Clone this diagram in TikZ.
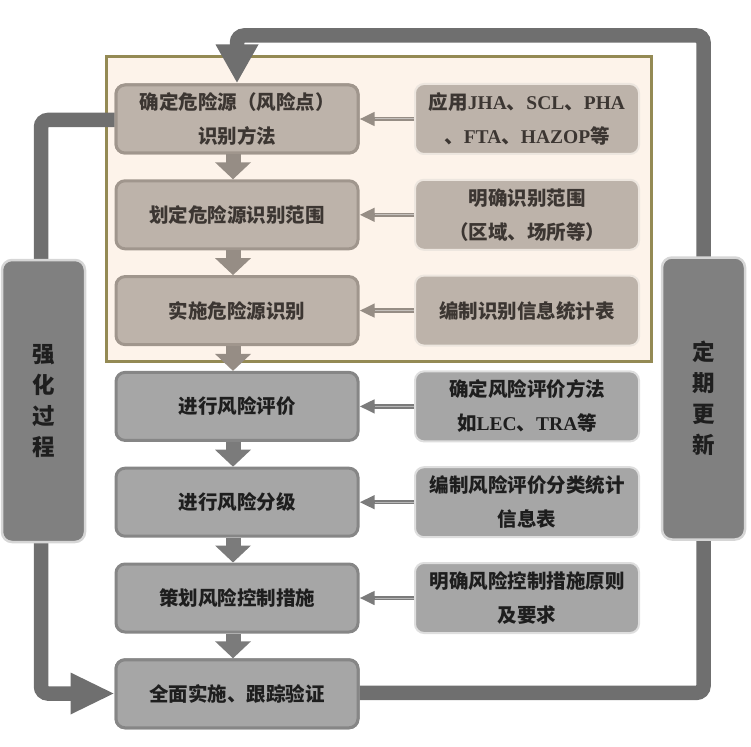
\documentclass[tikz,border=0pt]{standalone}
\usepackage{fontspec}
\usetikzlibrary{arrows.meta}
\newfontfamily\cjk{Noto Sans CJK SC}
\newfontfamily\lat{Liberation Serif}
\definecolor{framefill}{HTML}{FDF3EA}
\definecolor{framedraw}{HTML}{948A54}
\definecolor{tanfill}{HTML}{BDB3AA}
\definecolor{tandraw}{HTML}{A0968D}
\definecolor{tanlight}{HTML}{EDE6DF}
\definecolor{greyfill}{HTML}{A6A6A6}
\definecolor{greydraw}{HTML}{868686}
\definecolor{greylight}{HTML}{DEDEDE}
\definecolor{sidefill}{HTML}{808080}
\definecolor{sidedraw}{HTML}{D6D6D6}
\definecolor{loopcol}{HTML}{6F6F6F}
\definecolor{tanarrow}{HTML}{968D85}
\definecolor{greyarrow}{HTML}{7B7B7B}
\definecolor{tantext}{HTML}{3C3632}
\definecolor{greytext}{HTML}{1E1E1E}
\begin{document}
\begin{tikzpicture}[x=1pt,y=-1pt,
  txt/.style={font=\cjk\bfseries\fontsize{19.5}{34}\selectfont, align=center},
  basebox/.style={txt, rounded corners=9pt, line width=3pt, inner sep=0pt},
  lefttan/.style={basebox, fill=tanfill, draw=tandraw, text=tantext, minimum width=242pt, minimum height=68pt},
  righttan/.style={basebox, fill=tanfill, draw=tanlight, line width=2pt, text=tantext, minimum width=224pt, minimum height=70pt},
  leftgrey/.style={basebox, fill=greyfill, draw=greydraw, text=greytext, minimum width=242pt, minimum height=68pt},
  rightgrey/.style={basebox, fill=greyfill, draw=greylight, line width=2pt, text=greytext, minimum width=224pt, minimum height=70pt},
  sidebox/.style={rounded corners=10pt, line width=2.5pt, fill=sidefill, draw=sidedraw, text=greytext,
     minimum width=83pt, minimum height=282pt, inner sep=0pt,
     font=\cjk\bfseries\fontsize{22.5}{31}\selectfont, align=center},
  loopline/.style={draw=loopcol, line width=14.5pt, rounded corners=7pt},
  downtan/.style={draw=tanarrow, line width=15pt, -{Triangle[width=35pt,length=17pt]}},
  downgrey/.style={draw=greyarrow, line width=15pt, -{Triangle[width=35pt,length=17pt]}},
  smalltan/.style={draw=tanarrow, line width=4.5pt, -{Triangle[width=13pt,length=15pt]}},
  smallgrey/.style={draw=greyarrow, line width=4.5pt, -{Triangle[width=13pt,length=15pt]}},
  smallcore/.style={draw=white, opacity=0.45, line width=1pt, shorten >=15pt}
]
\useasboundingbox (0,0) rectangle (751,746);

% frame
\node[fill=framefill, draw=framedraw, line width=3pt, minimum width=545pt, minimum height=304pt, inner sep=0pt] (frame) at (378.5,209) {};

\path
  (237,119)   coordinate (c1)
  (237,214.8) coordinate (c2)
  (237,310.6) coordinate (c3)
  (237,406.4) coordinate (c4)
  (237,502.2) coordinate (c5)
  (237,598)   coordinate (c6)
  (237,693.8) coordinate (c7);

\coordinate (tl) at (237,35.5);
\coordinate (tr) at (703.5,35.5);
\coordinate (br) at (703.5,692.8);
\coordinate (ll) at (41,120);
\coordinate (lb) at (41,693.5);

% left column nodes
\node[lefttan]  (l1) at (c1) {确定危险源（风险点）\\识别方法};
\node[lefttan]  (l2) at (c2) {划定危险源识别范围};
\node[lefttan]  (l3) at (c3) {实施危险源识别};
\node[leftgrey] (l4) at (c4) {进行风险评价};
\node[leftgrey] (l5) at (c5) {进行风险分级};
\node[leftgrey] (l6) at (c6) {策划风险控制措施};
\node[leftgrey] (l7) at (c7) {全面实施、跟踪验证};

% right column nodes
\node[righttan]  (r1) at (527,119)   {应用{\lat\bfseries JHA}、{\lat\bfseries SCL}、{\lat\bfseries PHA}\\、{\lat\bfseries FTA}、{\lat\bfseries HAZOP}等};
\node[righttan]  (r2) at (527,214.8) {明确识别范围\\（区域、场所等）};
\node[righttan]  (r3) at (527,310.6) {编制识别信息统计表};
\node[rightgrey] (r4) at (527,406.4) {确定风险评价方法\\如{\lat\bfseries LEC}、{\lat\bfseries TRA}等};
\node[rightgrey] (r5) at (527,502.2) {编制风险评价分类统计\\信息表};
\node[rightgrey] (r6) at (527,598)   {明确风险控制措施原则\\及要求};

% loop lines
\draw[loopline] (l7.east |- br) -- (br) -- (tr) -- (tl) -- ([yshift=36pt]l1.north -| tl);
\draw[loopline] (l1.west |- ll) -- (ll) -- (lb) -- ([xshift=-40pt]l7.west |- lb);
\draw[draw=loopcol, line width=0pt, -{Triangle[width=43pt,length=38pt]}] ([yshift=38pt]l1.north -| tl) -- ([yshift=1pt]l1.north -| tl);
\draw[draw=loopcol, line width=0pt, -{Triangle[width=42pt,length=43pt]}] ([xshift=-43pt]l7.west |- lb) -- ([xshift=-1pt]l7.west |- lb);

% redraw end boxes on top of loop ends
\node[lefttan]  at (c1) {确定危险源（风险点）\\识别方法};
\node[leftgrey] at (c7) {全面实施、跟踪验证};

% side boxes
\node[sidebox] (s1) at (43.5,401)  {强\\化\\过\\程};
\node[sidebox] (s2) at (703.5,398.5) {定\\期\\更\\新};

% down arrows
\draw[downtan]  ([xshift=-4pt]l1.south) -- ([xshift=-4pt]l2.north);
\draw[downtan]  ([xshift=-4pt]l2.south) -- ([xshift=-4pt]l3.north);
\draw[downtan]  ([xshift=-4pt]l3.south) -- ([xshift=-4pt]l4.north);
\draw[downgrey] ([xshift=-4pt]l4.south) -- ([xshift=-4pt]l5.north);
\draw[downgrey] ([xshift=-4pt]l5.south) -- ([xshift=-4pt]l6.north);
\draw[downgrey] ([xshift=-4pt]l6.south) -- ([xshift=-4pt]l7.north);

% small arrows
\foreach \r/\l/\s in {r1/l1/smalltan, r2/l2/smalltan, r3/l3/smalltan, r4/l4/smallgrey, r5/l5/smallgrey, r6/l6/smallgrey}{
  \draw[\s] (\r.west) -- (\l.east);
  \draw[smallcore] (\r.west) -- (\l.east);
}
\end{tikzpicture}
\end{document}
